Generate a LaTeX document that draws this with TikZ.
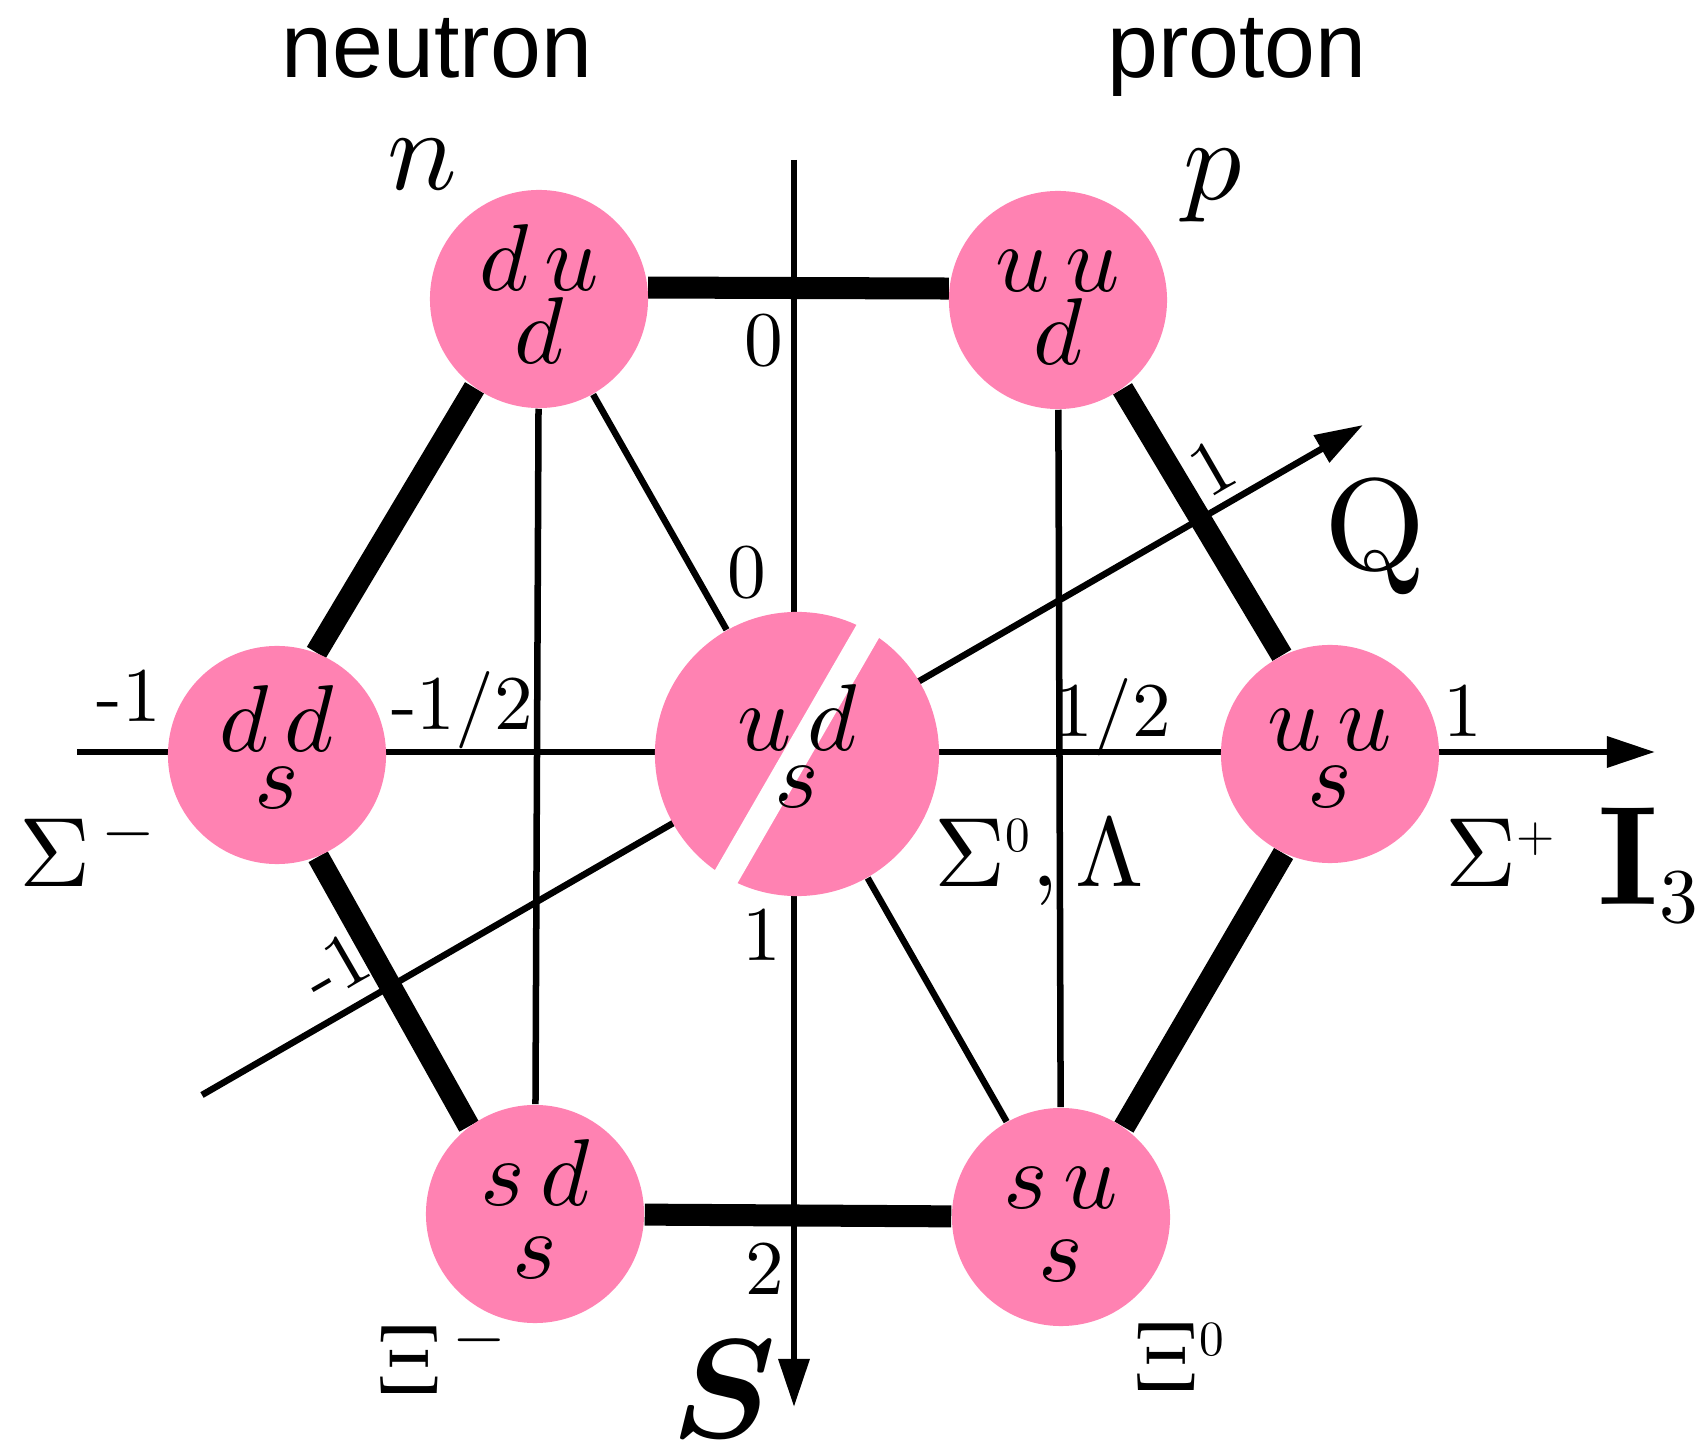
\documentclass[tikz,border=0pt]{standalone}
\usepackage[no-math]{fontspec}
\usepackage{bm}
\DeclareFontShape{OT1}{cmr}{m}{n}{<->cmr10}{}
\DeclareFontShape{OT1}{cmr}{bx}{n}{<->cmbx10}{}
\DeclareFontShape{OML}{cmm}{m}{it}{<->cmmi10}{}
\DeclareFontShape{OML}{cmm}{b}{it}{<->cmmib10}{}
\DeclareFontShape{OMS}{cmsy}{m}{n}{<->cmsy10}{}
\newfontfamily\labelsans{Liberation Sans}
\font\tickfont=cmr10 at 22pt
\usetikzlibrary{arrows.meta, calc, backgrounds}
\definecolor{quarkpink}{RGB}{255,130,178}

\begin{document}
\begin{tikzpicture}[x=0.01cm, y=-0.01cm,
    qtext/.style={align=center, inner sep=0pt, font=\fontsize{27}{20.5}\selectfont,
      text height=1.4cm, text depth=0.12cm},
    midtext/.style={qtext, font=\fontsize{27}{16.2}\selectfont,
      text height=1.2cm, text depth=0.14cm},
    quark/.style={circle, fill=quarkpink, minimum size=2.18cm, qtext},
    midquark/.style={quark, midtext},
    num/.style={font=\tickfont, inner sep=0pt, anchor=base},
    greek/.style={font=\fontsize{28}{30}\selectfont, inner sep=0pt, anchor=base},
    particle/.style={font=\fontsize{33}{35}\selectfont, inner sep=0pt, anchor=base},
    axlabel/.style={font=\fontsize{40}{42}\selectfont, inner sep=0pt, anchor=base},
    nucleon/.style={font=\labelsans\fontsize{26}{28}\selectfont, inner sep=0pt, anchor=base},
    hexedge/.style={line width=0.22cm},
    thinline/.style={line width=0.065cm},
    axis/.style={thinline, -{Triangle[length=0.48cm, width=0.30cm]}},
    stripe/.style={white, line width=0.26cm, line cap=round}]

  \useasboundingbox (0,0) rectangle (1702,1443);

  \node[quark] (n) at (539,299) {$d\,u$\\$d$};
  \node[quark] (p) at (1058,300) {$u\,u$\\$d$};
  \node[midquark] (sm) at (277,755) {$d\,d$\\$s$};
  \node[quark, minimum size=2.84cm] (c) at (797,754) {};
  \node[midquark] (sp) at (1330,754) {$u\,u$\\$s$};
  \node[quark] (xim) at (535,1214) {$s\,d$\\$s$};
  \node[quark] (xiz) at (1061,1217) {$s\,u$\\$s$};

  \draw[stripe] ($(c.center)!1.08!(c.60)$) -- (c.240);
  \node[midtext] (ctext) at (c) {$u\,d$\\$s$};

  \coordinate (iL) at (77,752);
  \coordinate (iR) at (1655,752);
  \coordinate (sT) at (794,160);
  \coordinate (sB) at (794,1407);
  \coordinate (qL) at (202,1095);
  \coordinate (qR) at (1363,425);

  \begin{scope}[on background layer]
    \draw[axis] (iL) -- (iR);
    \draw[axis] (sT) -- (sB);
    \draw[axis] (qL) -- (qR);
    \draw[hexedge] (n.6) -- (p.174);
    \draw[hexedge] (p.306) -- (sp.116);
    \draw[hexedge] (sp.245) -- (xiz.55);
    \draw[hexedge] (xiz) -- (xim);
    \draw[hexedge] (xim.127) -- (sm.292);
    \draw[hexedge] (sm.69) -- (n.234);
    \draw[thinline] (n) -- (xim);
    \draw[thinline] (p) -- (xiz);
    \draw[thinline] (n) -- (c);
    \draw[thinline] (c) -- (xiz);
  \end{scope}

  \node[nucleon] (neutron) at (437,78) {neutron};
  \node[nucleon] (proton) at (1237,78) {proton};
  \node[particle] (nlab) at (422,190) {$n$};
  \node[particle] (plab) at (1213,200) {$p$};
  \node[greek] (sigm) at (88,887) {$\Sigma^{\kern3pt-}$};
  \node[greek] (sigz) at (1039,887) {$\Sigma^{\scriptscriptstyle 0},\Lambda$};
  \node[greek] (sigp) at (1501,887) {$\Sigma^{\scriptscriptstyle +}$};
  \node[greek] (ximl) at (442,1393) {$\Xi^{\kern3pt-}$};
  \node[greek] (xizl) at (1180,1391) {$\Xi^{\scriptscriptstyle 0}$};

  \node[num] (ta) at (764,366) {0};
  \node[num] (tb) at (747,598) {0};
  \node[num] (tc) at (762,961) {1};
  \node[num] (td) at (765,1295) {2};
  \node[num] (te) at (129,722) {-1};
  \node[num] (tf) at (462,730) {-1/2};
  \node[num] (tg) at (1113,737) {1/2};
  \node[num] (th) at (1463,737) {1};
  \node[num, anchor=center, rotate=30] (qa) at (1213,468) {1};
  \node[num, anchor=center, rotate=30] (qb) at (336,968) {-1};

  \node[axlabel, font=\fontsize{37}{40}\selectfont] (qlab) at (1375,570) {$\mathrm{Q}$};
  \node[axlabel, anchor=base west] (ilab) at (1597,905) {$\mathbf{I}$\raisebox{-5pt}{\tickfont 3}};
  \node[axlabel] (slab) at (724,1437) {$\bm{S}$};
\end{tikzpicture}
\end{document}
